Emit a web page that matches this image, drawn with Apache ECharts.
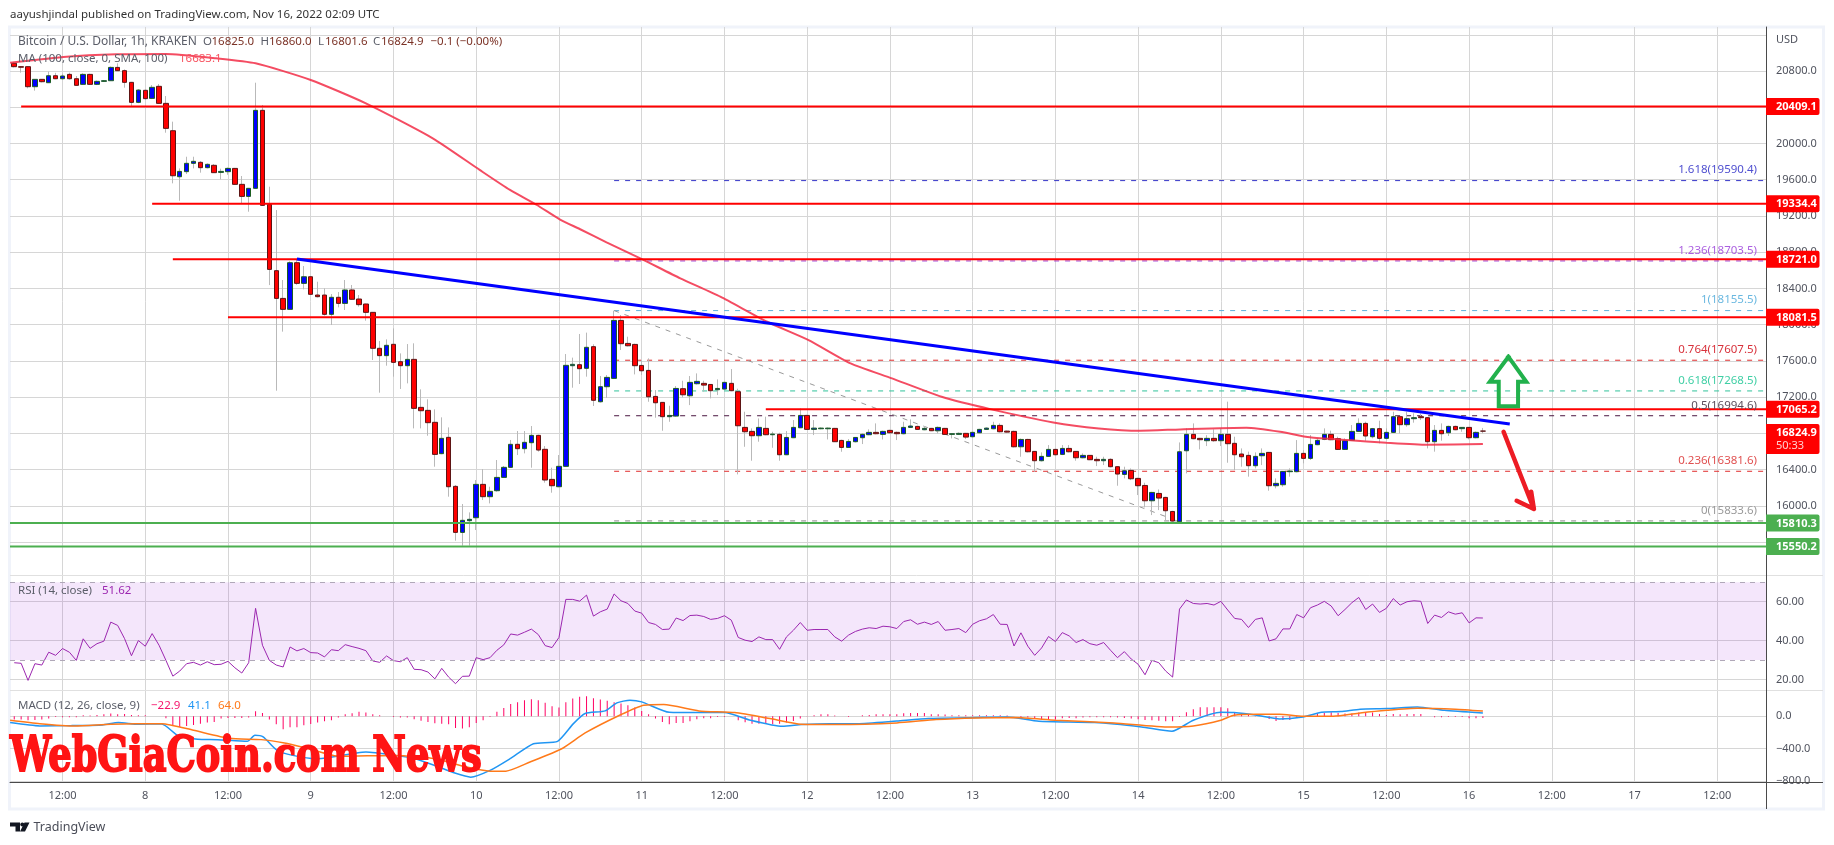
<!DOCTYPE html>
<html>
<head>
<meta charset="utf-8">
<title>Bitcoin / U.S. Dollar, 1h, KRAKEN</title>
<script src="https://cdn.jsdelivr.net/npm/echarts@6/dist/echarts.min.js"></script>
<style>html,body{margin:0;padding:0;background:#fff}#chart{width:1834px;height:845px}</style>
</head>
<body>
<div id="chart"></div>
<script>
// ---- data: hourly candles, first candle is 05:00 on the 7th (hour 5 of the axis) ----
const firstHour = 5;
const opens = [
20885,20848,20848,20627,20708,20671,20748,20715,20763,20715,
20653,20763,20653,20686,20693,20840,20804,20675,20454,20587,
20498,20631,20443,20141,19633,19689,19781,19792,19733,19759,
19681,19689,19725,19549,19416,19505,20366,19328,18596,18290,
18169,18684,18456,18529,18327,18327,18114,18302,18235,18383,
18283,18228,18136,17739,17658,17783,17591,17547,17617,17087,
17054,16922,16576,16756,16215,15707,15836,15869,16237,16101,
16167,16314,16425,16679,16631,16697,16778,16624,16292,16211,
16436,17547,17558,17518,17757,17149,17315,17407,18047,17793,
17782,17550,17495,17208,17142,16984,16991,17293,17215,17348,
17352,17340,17282,17289,17352,17260,16866,16822,16774,16855,
16785,16789,16564,16752,16862,16998,16844,16851,16851,16855,
16722,16645,16708,16752,16785,16811,16789,16833,16811,16796,
16866,16877,16840,16855,16829,16855,16789,16789,16800,16763,
16807,16844,16851,16888,16825,16822,16652,16733,16601,16498,
16546,16623,16568,16634,16601,16531,16557,16513,16498,16513,
16432,16347,16391,16303,16225,16056,16137,16093,15938,15825,
16608,16789,16745,16719,16745,16719,16789,16690,16572,16557,
16443,16553,16590,16222,16233,16377,16377,16579,16524,16675,
16734,16789,16741,16623,16723,16822,16910,16763,16852,16745,
16811,16984,16896,16962,16984,16973,16708,16833,16807,16877,
16852,16866,16752,16825];
const closes = [
20848,20842,20627,20708,20682,20748,20715,20745,20715,20642,
20763,20653,20686,20693,20840,20804,20675,20454,20590,20495,
20620,20443,20167,19644,19692,19781,19803,19733,19770,19678,
19692,19725,19549,19416,19505,20366,19317,18610,18290,18169,
18684,18456,18529,18335,18309,18114,18302,18235,18383,18280,
18221,18136,17739,17658,17772,17584,17547,17617,17076,17050,
16918,16568,16745,16211,15707,15840,15851,16237,16101,16160,
16314,16425,16679,16631,16701,16778,16616,16285,16222,16436,
17551,17562,17514,17750,17165,17315,17418,18047,17790,17767,
17547,17491,17204,17138,16984,16998,17296,17226,17363,17374,
17333,17271,17296,17363,17271,16884,16818,16774,16866,16785,
16792,16564,16755,16866,16998,16844,16858,16858,16858,16708,
16645,16711,16755,16789,16811,16796,16822,16807,16796,16866,
16881,16844,16855,16829,16866,16789,16796,16800,16759,16811,
16844,16858,16888,16818,16814,16652,16733,16597,16498,16546,
16623,16564,16634,16597,16531,16557,16509,16498,16513,16432,
16351,16387,16299,16222,16056,16148,16086,15946,15832,16597,
16789,16741,16730,16745,16719,16789,16686,16564,16542,16443,
16546,16579,16222,16248,16380,16384,16579,16524,16678,16723,
16789,16730,16623,16719,16822,16910,16771,16852,16745,16811,
16984,16896,16962,16973,16973,16708,16833,16796,16877,16840,
16866,16752,16811,16824.9];
const lows = [
20840,20782,20609,20583,20675,20668,20710,20705,20705,20638,
20648,20648,20645,20680,20690,20800,20616,20414,20445,20485,
20490,20440,20119,19560,19368,19663,19725,19678,19725,19675,
19604,19655,19545,19339,19247,19500,19310,18437,17271,17923,
18165,18440,18390,18330,18300,18100,17996,18191,18162,18275,
18199,18044,17610,17249,17547,17426,17290,17352,16855,16855,
16774,16432,16570,16101,15615,15560,15560,15733,16064,16027,
16156,16310,16420,16561,16579,16421,16598,16256,16145,16205,
16430,17304,17345,17426,17102,17140,17193,17400,17720,17760,
17451,17444,17149,16973,16829,16928,16985,17197,17112,17340,
17260,17186,17223,17285,17265,16347,16652,16498,16708,16780,
16641,16498,16560,16748,16858,16840,16781,16845,16733,16705,
16597,16640,16700,16682,16780,16790,16733,16800,16726,16790,
16860,16840,16835,16825,16800,16785,16744,16785,16737,16755,
16800,16840,16845,16810,16810,16645,16542,16590,16376,16490,
16540,16555,16560,16590,16498,16525,16505,16439,16450,16425,
16222,16303,16284,16119,15983,15898,15953,15843,15825,15820,
16358,16735,16623,16660,16708,16660,16476,16395,16432,16322,
16413,16450,16167,16193,16211,16322,16370,16469,16506,16670,
16725,16725,16618,16618,16718,16815,16719,16745,16690,16735,
16805,16800,16874,16918,16947,16634,16598,16719,16771,16835,
16818,16734,16745,16801.6];
const highs = [
20900,20852,20850,20710,20712,20793,20780,20770,20782,20745,
20775,20770,20695,20700,20850,20885,20818,20680,20600,20595,
20645,20656,20524,20241,19725,19854,19854,19806,19780,19773,
19722,19735,19730,19641,19510,20671,20425,19523,19265,18493,
18700,18720,18647,18535,18474,18401,18338,18360,18493,18438,
18327,18232,18140,17820,17838,17959,17683,17786,17794,17286,
17176,17065,16977,16866,16230,16020,15928,16285,16406,16211,
16506,16440,16727,16826,16826,16881,16785,16660,16421,16561,
17676,17636,17897,17912,17783,17433,17444,18154,18106,17867,
17790,17609,17628,17278,17145,17105,17322,17381,17433,17462,
17381,17345,17396,17370,17510,17293,17039,16855,16965,16984,
16818,16807,16825,16947,17076,17005,16947,16865,16865,16860,
16730,16737,16760,16800,16844,16910,16830,16840,16820,16928,
16954,16885,16881,16860,16875,16860,16800,16810,16805,16820,
16850,16865,16928,16910,16830,16830,16744,16740,16605,16590,
16671,16630,16671,16671,16605,16579,16560,16542,16542,16524,
16436,16432,16413,16310,16255,16155,16181,16100,15945,16700,
16855,16910,16750,16780,16844,16855,17150,16763,16634,16598,
16590,16634,16595,16303,16385,16414,16726,16616,16782,16745,
16855,16830,16763,16745,16892,16966,16929,16860,16940,16855,
17039,16990,17039,17021,17021,16980,16892,16910,16885,16885,
16870,16870,16820,16860];

const maHours = [4.4,12.6,19.8,27,34.3,40,48,56,65.7,72.5,76.9,80.8,84.1,87,90.9,95.8,101.6,107.4,114.2,120.2,126.3,132.3,139.5,146.7,155.7,162.3,168.3,174.1,183.7,188.6,192.9,198.3,204,209.9,218];
const maValues = [20892,20958,20984,20988,20940,20885,20701,20443,20057,19708,19487,19321,19163,19056,18909,18732,18512,18309,18032,17830,17572,17407,17204,17065,16921,16855,16829,16844,16863,16818,16756,16726,16697,16675,16683];

const rsiValues = [
28.6,28.3,19.5,28.1,27.4,34.0,32.4,35.9,34.0,29.8,
40.9,36.0,38.4,39.7,49.5,47.8,41.0,32.2,40.0,37.1,
43.6,37.6,29.8,21.7,24.3,28.1,28.8,27.4,29.1,27.6,
27.8,29.3,26.0,23.3,28.6,56.6,37.6,29.8,27.4,26.4,
36.7,34.7,35.9,33.8,33.6,31.6,35.3,34.8,37.9,36.9,
36.0,34.8,29.5,28.8,32.1,29.7,29.1,31.2,25.2,25.0,
23.8,20.3,25.7,21.2,17.8,21.6,21.7,31.2,30.2,31.2,
35.0,37.8,43.4,42.8,44.3,45.9,43.1,37.4,36.4,41.6,
61.2,61.2,60.3,63.4,52.6,54.8,56.2,64.0,60.5,59.1,
55.2,54.1,49.3,48.3,45.7,45.9,51.6,50.3,52.9,53.1,
52.4,50.9,51.4,52.8,50.5,41.6,40.2,39.5,41.9,40.5,
40.5,35.5,41.9,45.3,49.3,45.3,45.7,45.7,45.7,41.9,
39.7,42.8,44.7,45.9,46.6,46.2,47.4,47.1,46.2,49.8,
50.7,48.4,49.5,48.3,49.8,45.3,45.7,46.2,44.1,48.4,
50.2,51.2,53.4,48.4,48.3,37.2,44.0,37.1,32.4,36.2,
42.1,39.5,44.1,42.4,39.0,40.5,38.4,37.6,39.0,35.0,
31.2,34.3,30.5,27.8,22.4,29.8,28.6,24.3,21.2,56.2,
60.9,59.1,58.8,59.1,58.3,60.2,55.7,51.4,50.9,46.7,
50.9,51.7,39.8,40.9,46.0,46.0,53.4,51.7,56.9,58.3,
60.2,57.8,52.8,56.0,59.5,62.2,56.0,58.8,54.5,56.6,
61.6,58.3,60.0,60.5,60.2,48.8,53.1,51.9,54.8,53.6,
54.3,49.1,51.7,51.62];

const histValues = [
-41,-41,-49,-45,-41,-29,-8,-12,-12,-12,
12,8,16,25,33,25,29,16,12,12,
0,0,-25,-119,-132,-119,-107,-91,-78,-70,
-29,-21,-21,-21,-16,62,41,-41,-99,-161,
-136,-136,-111,-95,-78,-62,-49,-16,25,37,
54,45,25,12,0,-8,-16,-16,-37,-54,
-70,-87,-91,-99,-144,-152,-136,-82,-49,-8,
54,103,152,173,198,210,198,165,124,107,
173,218,239,247,222,206,190,173,157,136,
107,66,25,-29,-70,-99,-82,-82,-62,-37,
-25,-25,-8,-8,0,-49,-74,-91,-91,-91,
-99,-91,-78,-58,-29,-4,12,25,25,8,
0,-8,0,12,16,25,25,25,25,37,
41,41,41,25,25,21,12,12,12,12,
12,12,12,12,8,0,-8,-16,-33,-41,
-41,-41,-25,-21,-25,-16,-12,-12,-12,-12,
-16,-21,-29,-37,-45,-49,-54,-62,-62,-8,
49,87,111,111,111,111,99,49,33,21,
4,-4,-33,-58,-45,-45,-16,0,8,33,
41,49,41,33,33,45,45,45,29,16,
29,25,29,29,29,0,-12,-12,-8,-8,
-8,-25,-25,-22.9];

const macdHours = [4.4,8.7,13.3,17.8,20.1,23,26.4,28.7,31.6,34.5,38.8,39.9,41.1,43.1,45.4,48.8,50.5,56,60.3,63.1,66,68.9,71.2,74,76.9,80.3,83.8,86.1,87.8,90.7,92.4,94.3,96,100,104.3,108,111.8,116.4,119.2,123.2,127.3,133,137.6,144.5,149,153.6,161.7,168.5,172.9,176,180,181.9,185.2,188.5,191.9,194.6,197.4,200.2,204.1,208.5,212.4,218];
const macdValues = [-78,-119,-115,-107,-78,-99,-95,-235,-284,-288,-309,-235,-255,-420,-482,-523,-511,-441,-482,-523,-606,-700,-750,-667,-523,-338,-309,-91,33,66,165,198,177,49,45,45,-49,-124,-103,-91,-91,-58,-29,-16,-8,-62,-78,-132,-185,-49,49,45,12,-33,-8,49,58,87,95,115,74,41.1];
const signalHours = [4.4,8.7,13.8,19,26.4,31,36.2,40.8,44.2,47.7,52.2,60.3,66,70.6,74,76.3,79.8,84.4,87.8,92.8,96.3,99.2,104.3,109.5,114.6,118.7,124.4,133,138.7,144.5,150.2,156,164.5,172.6,176,180,181.9,185.2,188.5,191.9,196.3,200.2,204.1,208.5,214,218];
const signalValues = [-49,-91,-119,-99,-91,-173,-272,-288,-330,-400,-494,-482,-523,-626,-676,-676,-564,-400,-206,12,136,144,66,45,-29,-95,-103,-82,-41,-21,-16,-49,-82,-132,-119,-49,12,25,25,0,0,41,74,99,87,64];

// price levels
const redLevels = [20409.1,19334.4,18721.0,18081.5,17065.2];
const redStarts = [6,25,28,36,114];
const greenLevels = [15810.3,15550.2];
const fibRatios = ['1.618','1.236','1','0.764','0.618','0.5','0.236','0'];
const fibLevels = [19590.4,18703.5,18155.5,17607.5,17268.5,16994.6,16381.6,15833.6];
const fibColors = ['#3535c8','#9c3fd6','#5fb0dc','#e02b2b','#2fc29a','#4a1540','#e02b2b','#8a8a8a'];
const fibTextColors = ['#4f4fd0','#ab5fe0','#6ab8e0','#d8323c','#40cfa5','#5c4f5c','#e05050','#9a9a9a'];
const trendHours = [46,221.9];
const trendValues = [18725,16903];
const fibDiagHours = [92,173.7];
const fibDiagValues = [18155.5,15833.6];
const upArrowHours = [221.7,219,220.3,220.3,223.1,223.1,224.3,221.7];
const upArrowValues = [17646,17370,17370,17100,17100,17370,17370,17646];
const downArrowHours = [221,225.4,222.9,225.4,225];
const downArrowValues = [16818,15965,16056,15965,16156];

// axis ticks
const xTickHours = [12,24,36,48,60,72,84,96,108,120,132,144,156,168,180,192,204,216,228,240,252];
const xTickLabels = ['12:00','8','12:00','9','12:00','10','12:00','11','12:00','12','12:00','13','12:00','14','12:00','15','12:00','16','12:00','17','12:00'];
const priceGrid = [15600,16000,16400,16800,17200,17600,18000,18400,18800,19200,19600,20000,20400,20800,21200];
const priceLabels = [16000,16400,16800,17200,17600,18000,18400,18800,19200,19600,20000,20400,20800];
const rsiTicks = [20,40,60];
const macdTicks = [-800,-400,0];

// price tags on the right scale
const tagValues = [20409.1,19334.4,18721.0,18081.5,17065.2,15810.3,15550.2];
const tagColors = ['#ff0000','#ff0000','#ff0000','#ff0000','#ff0000','#4caf50','#4caf50'];
const lastPrice = 16824.9;
const lastCountdown = '50:33';

const FONT = '"Noto Sans", sans-serif';
const xMin = 4.384, xMax = 259.06;
const hourAt = i => firstHour + i;

const gridText = '#50535e';
const gridLine = '#d6d6d6';

const xAxisBase = (idx, showLabels) => ({
  type: 'value', gridIndex: idx, min: xMin, max: xMax,
  axisLine: {show: idx === 2, onZero: false, lineStyle: {color: '#4a4a4a', width: 1}},
  splitLine: {show: true, lineStyle: {color: gridLine, width: 1}},
  axisTick: {show: false, customValues: xTickHours},
  axisLabel: {
    show: showLabels, customValues: xTickHours, margin: 8, color: gridText, fontFamily: FONT, fontSize: 11,
    formatter: v => xTickLabels[xTickHours.indexOf(v)] || ''
  }
});
const yAxisBase = (idx, min, max, ticks, labels, fmt) => ({
  type: 'value', gridIndex: idx, position: 'right', min, max,
  axisLine: {show: true, onZero: false, lineStyle: {color: '#4a4a4a', width: 1}},
  splitLine: {show: true, lineStyle: {color: gridLine, width: 1}},
  axisTick: {show: false, customValues: ticks},
  axisLabel: {customValues: labels, margin: 10, align: 'left', color: gridText, fontFamily: FONT, fontSize: 11, formatter: fmt}
});

const pairs = (xs, ys) => xs.map((x, k) => [x, ys[k]]);
const hLine = (name, start, v, color, width, type, z) => ({
  name, type: 'line', xAxisIndex: 0, yAxisIndex: 0, data: [[start, v], [xMax, v]],
  symbol: 'none', silent: true, z: z || 4, lineStyle: {color, width, type: type || 'solid', dashOffset: 0}
});

const series = [];
// candle wicks (thin grey)
series.push({
  name: 'wicks', type: 'candlestick', xAxisIndex: 0, yAxisIndex: 0, barWidth: 1, z: 3, silent: true,
  itemStyle: {color: '#b9b9b9', color0: '#b9b9b9', borderColor: '#b9b9b9', borderColor0: '#b9b9b9', borderWidth: 1},
  data: opens.map((o, i) => [hourAt(i), o, closes[i], lows[i], highs[i]])
});
// candle bodies (blue up, red down) with darker borders
series.push({
  name: 'BTCUSD', type: 'candlestick', xAxisIndex: 0, yAxisIndex: 0, barWidth: 5, z: 3, silent: true,
  itemStyle: {color: '#0000ff', color0: '#ff0000', borderColor: '#1b5e20', borderColor0: '#5d1414', borderWidth: 1},
  data: opens.map((o, i) => [hourAt(i), o, closes[i], Math.min(o, closes[i]), Math.max(o, closes[i])])
});
// fib levels
fibLevels.forEach((v, k) => series.push(hLine('fib ' + fibRatios[k], 92, v, fibColors[k], 1, [5, 6], 3)));
series.push({name: 'fib trend', type: 'line', xAxisIndex: 0, yAxisIndex: 0, data: pairs(fibDiagHours, fibDiagValues), symbol: 'none', silent: true, z: 3,
  lineStyle: {color: '#9a9a9a', width: 1, type: [5, 6]}});
// MA 100
series.push({name: 'MA 100', type: 'line', xAxisIndex: 0, yAxisIndex: 0, data: pairs(maHours, maValues), symbol: 'none', smooth: 0.2, silent: true, z: 4,
  lineStyle: {color: 'rgba(242,45,70,0.85)', width: 2}});
// drawn levels
redLevels.forEach((v, k) => series.push(hLine('resistance ' + v, redStarts[k], v, '#ff0000', 2, 'solid', 5)));
greenLevels.forEach(v => series.push(hLine('support ' + v, xMin, v, '#4caf50', 2, 'solid', 5)));
series.push({name: 'trend line', type: 'line', xAxisIndex: 0, yAxisIndex: 0, data: pairs(trendHours, trendValues), symbol: 'none', silent: true, z: 6,
  lineStyle: {color: '#0000ff', width: 3}});
series.push({name: 'up arrow', type: 'line', xAxisIndex: 0, yAxisIndex: 0, data: pairs(upArrowHours, upArrowValues), symbol: 'none', silent: true, z: 6,
  lineStyle: {color: '#22b14c', width: 4, join: 'miter', cap: 'square'}});
series.push({name: 'down arrow', type: 'line', xAxisIndex: 0, yAxisIndex: 0, data: pairs(downArrowHours, downArrowValues), symbol: 'none', silent: true, z: 6,
  lineStyle: {color: '#ed1c24', width: 4.5, cap: 'round', join: 'round'}});
// fib labels
series.push({
  name: 'fib labels', type: 'custom', xAxisIndex: 0, yAxisIndex: 0, silent: true, z: 7, clip: false,
  encode: {x: 0, y: 1},
  data: fibLevels.map(v => [257.76, v]),
  renderItem: (params, api) => {
    const p = api.coord([api.value(0), api.value(1)]);
    const k = params.dataIndex;
    return {type: 'text', style: {x: p[0], y: p[1] - 10.5, text: fibRatios[k] + '(' + fibLevels[k].toFixed(1) + ')', fill: fibTextColors[k], font: '11.5px ' + FONT, textAlign: 'right', textVerticalAlign: 'middle'}};
  }
});
// price tags
series.push({
  name: 'price tags', type: 'custom', xAxisIndex: 0, yAxisIndex: 0, silent: true, z: 8, clip: false,
  encode: {x: 0, y: 1},
  data: tagValues.map(v => [xMax, v]),
  renderItem: (params, api) => {
    const p = api.coord([api.value(0), api.value(1)]);
    const k = params.dataIndex;
    return {type: 'group', children: [
      {type: 'rect', shape: {x: p[0], y: p[1] - 8.5, width: 53.5, height: 17, r: [0, 2, 2, 0]}, style: {fill: tagColors[k]}},
      {type: 'text', style: {x: p[0] + 10, y: p[1] + 0.5, text: tagValues[k].toFixed(1), fill: '#fff', font: 'bold 11px ' + FONT, textVerticalAlign: 'middle'}}
    ]};
  }
});
series.push({
  name: 'last price tag', type: 'custom', xAxisIndex: 0, yAxisIndex: 0, silent: true, z: 8, clip: false,
  encode: {x: 0, y: 1},
  data: [[xMax, lastPrice]],
  renderItem: (params, api) => {
    const p = api.coord([api.value(0), api.value(1)]);
    return {type: 'group', children: [
      {type: 'rect', shape: {x: p[0], y: p[1] - 7, width: 53.5, height: 30, r: [0, 2, 2, 0]}, style: {fill: '#ff0000'}},
      {type: 'text', style: {x: p[0] + 10, y: p[1] + 2, text: lastPrice.toFixed(1), fill: '#fff', font: 'bold 11px ' + FONT, textVerticalAlign: 'middle'}},
      {type: 'text', style: {x: p[0] + 10, y: p[1] + 15, text: lastCountdown, fill: '#ffd0d0', font: '11px ' + FONT, textVerticalAlign: 'middle'}}
    ]};
  }
});
// RSI
series.push({
  name: 'RSI', type: 'line', xAxisIndex: 1, yAxisIndex: 1, data: rsiValues.map((v, i) => [hourAt(i), v]), symbol: 'none', silent: true, z: 3,
  lineStyle: {color: '#9c27b0', width: 1},
  markArea: {silent: true, itemStyle: {color: 'rgba(156,39,220,0.115)'}, data: [[{coord: [xMin, 70]}, {coord: [xMax, 30]}]]},
  markLine: {silent: true, symbol: 'none', label: {show: false}, lineStyle: {color: '#b0a8b8', type: [5, 5], width: 1}, data: [{yAxis: 70}, {yAxis: 30}]}
});
// MACD
series.push({
  name: 'Histogram', type: 'bar', xAxisIndex: 2, yAxisIndex: 2, barWidth: 1, silent: true, z: 3,
  itemStyle: {color: '#ff0062'},
  data: histValues.map((v, i) => [hourAt(i), v])
});
series.push({name: 'MACD', type: 'line', xAxisIndex: 2, yAxisIndex: 2, data: pairs(macdHours, macdValues), symbol: 'none', smooth: 0.2, silent: true, z: 4,
  lineStyle: {color: '#2196f3', width: 1.5}});
series.push({name: 'Signal', type: 'line', xAxisIndex: 2, yAxisIndex: 2, data: pairs(signalHours, signalValues), symbol: 'none', smooth: 0.2, silent: true, z: 4,
  lineStyle: {color: '#ff7a1a', width: 1.5}});

const txt = (x, y, text, fill, size, extra) => ({type: 'text', x, y, silent: true, z: 20,
  style: Object.assign({text, fill, font: (size || 12) + 'px ' + FONT, textVerticalAlign: 'middle'}, extra || {})});
const gline = (x1, y1, x2, y2, stroke, w, z) => ({type: 'line', silent: true, z: z == null ? 1 : z, shape: {x1, y1, x2, y2}, style: {stroke, lineWidth: w || 1}});
const O_COL = '#7b3226';

const graphic = [
  // frame and separators
  {type: 'rect', silent: true, z: 0, shape: {x: 9.5, y: 27, width: 1814, height: 782}, style: {fill: 'none', stroke: '#f0f3fa', lineWidth: 3}},
  gline(10, 575.5, 1823, 575.5, '#e0e0e0', 1),
  gline(10, 690.5, 1823, 690.5, '#e0e0e0', 1),
  gline(10, 782.5, 1823, 782.5, '#4a4a4a', 1, 2),
  gline(1766.5, 27, 1766.5, 809, '#4a4a4a', 1, 2),
  // header
  txt(10, 15, 'aayushjindal published on TradingView.com, Nov 16, 2022 02:09 UTC', '#333333', 11.5),
  txt(18, 42, 'Bitcoin / U.S. Dollar, 1h, KRAKEN', '#5a5d68', 12),
  txt(203, 42, 'O', '#5a5d68', 11.5), txt(211.5, 42, '16825.0', O_COL, 11.5),
  txt(260.5, 42, 'H', '#5a5d68', 11.5), txt(269, 42, '16860.0', O_COL, 11.5),
  txt(318, 42, 'L', '#5a5d68', 11.5), txt(325, 42, '16801.6', O_COL, 11.5),
  txt(373, 42, 'C', '#5a5d68', 11.5), txt(381, 42, '16824.9', O_COL, 11.5),
  txt(430.5, 42, '\u22120.1 (\u22120.00%)', O_COL, 11.5),
  txt(18, 58.5, 'MA (100, close, 0, SMA, 100)', '#5a5d68', 11.5),
  txt(179, 58.5, '16683.1', '#f7525f', 11.5),
  txt(1776, 40, 'USD', gridText, 11),
  // indicator legends
  txt(18, 591, 'RSI (14, close)', '#5a5d68', 11.5),
  txt(102, 591, '51.62', '#9c27b0', 11.5),
  txt(18, 706, 'MACD (12, 26, close, 9)', '#5a5d68', 11.5),
  txt(151, 706, '\u221222.9', '#f5156c', 11.5),
  txt(188, 706, '41.1', '#2196f3', 11.5),
  txt(218, 706, '64.0', '#ff7a1a', 11.5),
  // watermark
  {type: 'text', x: 10, y: 758, silent: true, z: 30, scaleX: 0.75,
    style: {text: 'WebGiaCoin.com News', fill: '#ff1414', stroke: '#ff1414', lineWidth: 2, font: 'bold 49px "DejaVu Serif", serif', textVerticalAlign: 'middle'}},
  // brand
  {type: 'polygon', silent: true, z: 20, shape: {points: [[10,822.5],[20,822.5],[20,831.5],[15.5,831.5],[15.5,826.5],[10,826.5]]}, style: {fill: '#131722'}},
  {type: 'circle', silent: true, z: 20, shape: {cx: 22.3, cy: 824.5, r: 2}, style: {fill: '#131722'}},
  {type: 'polygon', silent: true, z: 20, shape: {points: [[24.5,822.5],[29.5,822.5],[25,831.5],[20,831.5]]}, style: {fill: '#131722'}},
  txt(33.5, 827, 'TradingView', '#4a4d58', 12.5)
];

const option = {
  animation: false,
  backgroundColor: '#ffffff',
  textStyle: {fontFamily: FONT},
  grid: [
    {left: 10, width: 1756, top: 27, height: 548.5},
    {left: 10, width: 1756, top: 575.5, height: 115},
    {left: 10, width: 1756, top: 690.5, height: 92}
  ],
  xAxis: [xAxisBase(0, false), xAxisBase(1, false), xAxisBase(2, true)],
  yAxis: [
    yAxisBase(0, 15231, 21286, priceGrid, priceLabels, v => v.toFixed(1)),
    yAxisBase(1, 14.3, 73.5, rsiTicks, rsiTicks, v => v.toFixed(2)),
    yAxisBase(2, -816, 317, macdTicks, macdTicks, v => (v < 0 ? '\u2212' + (-v).toFixed(1) : v.toFixed(1)))
  ],
  series,
  graphic
};

const chart = echarts.init(document.getElementById('chart'), null, {renderer: 'canvas', width: 1834, height: 845});
chart.setOption(option);
</script>
</body>
</html>
